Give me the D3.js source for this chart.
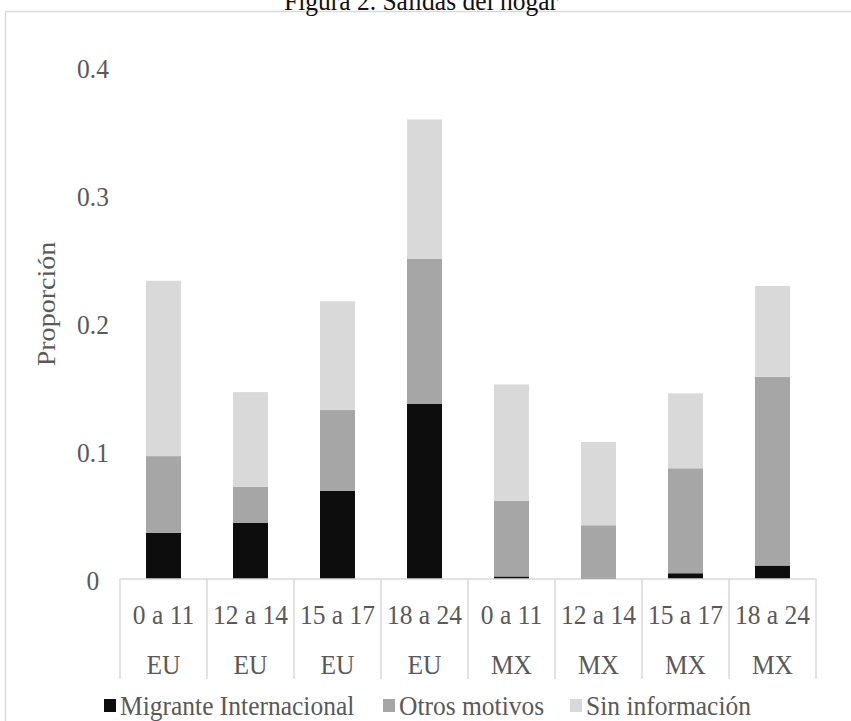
<!DOCTYPE html>
<html>
<head>
<meta charset="utf-8">
<script src="https://cdn.jsdelivr.net/npm/d3@7"></script>
<style>
  html, body { margin: 0; padding: 0; background: #fff; }
  svg { display: block; }
  text { font-family: "Liberation Serif", "Times New Roman", serif; }
</style>
</head>
<body>
<svg id="chart" width="851" height="721"></svg>
<script>
// Age groups and country of each column
const ageGroups = ["0 a 11", "12 a 14", "15 a 17", "18 a 24", "0 a 11", "12 a 14", "15 a 17", "18 a 24"];
const countries = ["EU", "EU", "EU", "EU", "MX", "MX", "MX", "MX"];

// Stacked series (proportion of household departures)
const seriesNames = ["Migrante Internacional", "Otros motivos", "Sin información"];
const migranteInternacional = [0.036, 0.044, 0.069, 0.137, 0.002, 0.001, 0.0045, 0.0105];
const otrosMotivos          = [0.060, 0.028, 0.063, 0.113, 0.059, 0.041, 0.082, 0.1475];
const sinInformacion        = [0.137, 0.074, 0.085, 0.109, 0.091, 0.065, 0.0585, 0.071];

const yTicks = [0, 0.1, 0.2, 0.3, 0.4];
const colors = ["#0d0d0d", "#a6a6a6", "#d9d9d9"];

const svg = d3.select("#chart");
const textColor = "#595959";
const fontSize = 25.5;
const stretch = 1.1; // text is drawn slightly taller than wide

const plot = { left: 120, right: 816, top: 67, bottom: 579 };

// Places a horizontal text centred on (cx, cy), stretched vertically
function placeText(sel, cx, cy) {
  sel.attr("transform", (d, i) => {
    const px = typeof cx === "function" ? cx(d, i) : cx;
    const py = typeof cy === "function" ? cy(d, i) : cy;
    return `translate(${px},${py}) scale(1,${stretch})`;
  }).attr("x", 0).attr("y", 0);
}

// Chart frame and title
svg.append("rect")
  .attr("x", 5.5).attr("y", 11.5)
  .attr("width", 900).attr("height", 800)
  .attr("fill", "#fff")
  .attr("stroke", "#d9d9d9").attr("stroke-width", 1.5);

svg.append("text")
  .attr("transform", `translate(421,10) scale(1,${stretch})`)
  .attr("text-anchor", "middle")
  .attr("font-size", fontSize)
  .attr("fill", "#111")
  .text("Figura 2. Salidas del hogar");

// Rows keyed by column index
const rows = ageGroups.map((g, i) => ({
  key: i,
  "Migrante Internacional": migranteInternacional[i],
  "Otros motivos": otrosMotivos[i],
  "Sin información": sinInformacion[i]
}));

const x = d3.scaleBand()
  .domain(rows.map(d => d.key))
  .range([plot.left, plot.right])
  .paddingInner(0.598)
  .paddingOuter(0.299);

const y = d3.scaleLinear()
  .domain([0, 0.4])
  .range([plot.bottom, plot.top]);

const stacked = d3.stack().keys(seriesNames)(rows);

// Y tick labels (no axis line)
const yAxis = d3.axisLeft(y).tickValues(yTicks).tickSize(0)
  .tickFormat(d => d === 0 ? "0" : d3.format(".1f")(d));
const gy = svg.append("g").attr("transform", "translate(93,0)").call(yAxis);
gy.select(".domain").remove();
gy.selectAll(".tick").attr("transform", null);
gy.selectAll(".tick text")
  .attr("dy", null)
  .attr("text-anchor", "middle")
  .attr("dominant-baseline", "central")
  .attr("font-family", "Liberation Serif, serif")
  .attr("font-size", fontSize)
  .attr("fill", textColor)
  .call(placeText, 0, d => y(d) + 2);

// Y axis title
svg.append("text")
  .attr("transform", `translate(46,304) rotate(-90) scale(${stretch},1)`)
  .attr("text-anchor", "middle")
  .attr("dominant-baseline", "central")
  .attr("font-size", fontSize)
  .attr("fill", textColor)
  .text("Proporción");

// Stacked bars
svg.append("g").selectAll("g")
  .data(stacked)
  .join("g")
  .attr("fill", (d, i) => colors[i])
  .selectAll("rect")
  .data(d => d)
  .join("rect")
  .attr("x", d => x(d.data.key))
  .attr("width", x.bandwidth())
  .attr("y", d => y(d[1]))
  .attr("height", d => y(d[0]) - y(d[1]));

// Category axis: baseline and separators spanning both label rows
const step = x.step();
const boundaries = d3.range(ageGroups.length + 1).map(i => plot.left + i * step);
svg.append("line")
  .attr("x1", plot.left).attr("x2", plot.right)
  .attr("y1", plot.bottom).attr("y2", plot.bottom)
  .attr("stroke", "#d9d9d9").attr("stroke-width", 1.5);
svg.append("g").selectAll("line")
  .data(boundaries)
  .join("line")
  .attr("x1", d => d).attr("x2", d => d)
  .attr("y1", plot.bottom).attr("y2", 679)
  .attr("stroke", "#d9d9d9").attr("stroke-width", 1.5);

const center = i => x(i) + x.bandwidth() / 2;
svg.append("g").selectAll("text")
  .data(ageGroups)
  .join("text")
  .attr("text-anchor", "middle")
  .attr("dominant-baseline", "central")
  .attr("font-size", fontSize)
  .attr("fill", textColor)
  .text(d => d)
  .call(placeText, (d, i) => center(i), 615);

svg.append("g").selectAll("text")
  .data(countries)
  .join("text")
  .attr("text-anchor", "middle")
  .attr("dominant-baseline", "central")
  .attr("font-size", fontSize)
  .attr("fill", textColor)
  .text(d => d)
  .call(placeText, (d, i) => center(i), 665);

// Legend
const legendX = [104, 383, 570];
const legend = svg.append("g").selectAll("g")
  .data(seriesNames)
  .join("g")
  .attr("transform", (d, i) => `translate(${legendX[i]},706)`);
legend.append("rect")
  .attr("x", 0).attr("y", -7)
  .attr("width", 12).attr("height", 13)
  .attr("fill", (d, i) => colors[i]);
legend.append("text")
  .attr("transform", `translate(16,0) scale(1,${stretch})`)
  .attr("dominant-baseline", "central")
  .attr("font-size", fontSize)
  .attr("fill", textColor)
  .text(d => d);
</script>
</body>
</html>
